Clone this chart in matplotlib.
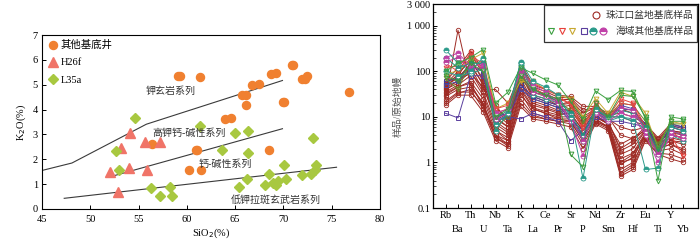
import matplotlib
matplotlib.use("Agg")
import matplotlib.pyplot as plt
from matplotlib.ticker import LogLocator, NullFormatter, FixedLocator
from matplotlib.patches import Rectangle

plt.rcParams['font.family'] = ['Liberation Serif', 'Noto Sans CJK SC']

# ---------------- Left chart data ----------------
well_sio2 = [59.1, 59.3, 61.4, 64.0, 64.6, 60.9, 61.0, 56.4, 60.2, 61.5, 65.7, 66.1, 66.1,
             66.7, 67.5, 68.7, 69.2, 70.0, 70.1, 68.5, 70.9, 71.0, 71.9, 72.2, 72.4, 76.8]
well_k2o = [5.35, 5.35, 5.31, 3.63, 3.66, 2.39, 2.39, 2.62, 1.56, 1.57, 4.58, 4.58, 4.19,
            4.99, 5.03, 5.44, 5.46, 4.29, 4.29, 2.38, 5.81, 5.81, 5.22, 5.24, 5.35, 4.69]
h26f_sio2 = [54.1, 53.2, 55.7, 57.2, 52.0, 54.0, 55.9, 52.9]
h26f_k2o = [3.04, 2.47, 2.69, 2.69, 1.49, 1.65, 1.55, 0.70]
l35a_sio2 = [54.6, 52.7, 53.0, 61.4, 63.6, 65.0, 66.3, 66.3, 56.3, 58.3, 57.2, 58.5, 65.4,
             66.2, 68.5, 68.1, 68.9, 69.2, 69.4, 70.1, 70.3, 71.9, 72.9, 73.1, 73.3, 73.4]
l35a_k2o = [3.68, 2.33, 1.56, 3.32, 2.39, 3.04, 3.12, 2.27, 0.83, 0.89, 0.51, 0.51, 0.87,
            1.22, 1.41, 0.95, 1.06, 0.95, 1.12, 1.76, 1.20, 1.37, 1.40, 2.86, 1.56, 1.76]
line_sho_x = [45, 48.1, 55.8, 69.9]
line_sho_y = [1.55, 1.85, 3.41, 5.17]
line_hk_x = [52.0, 69.9]
line_hk_y = [1.29, 3.23]
line_ca_x = [47.3, 75.5]
line_ca_y = [0.43, 1.68]
series_names = ['钾玄岩系列', '高钾钙-碱性系列', '钙-碱性系列', '低钾拉斑玄武岩系列']
series_pos = [(58.3, 4.74), (60.2, 3.06), (64.0, 1.79), (69.2, 0.34)]

# ---------------- Right chart data ----------------
elements = ['Rb', 'Ba', 'Th', 'U', 'Nb', 'Ta', 'K', 'La', 'Ce', 'Pr',
            'Sr', 'P', 'Nd', 'Sm', 'Zr', 'Hf', 'Eu', 'Ti', 'Y', 'Yb']

zjk_samples = [
    [60, 120, 280, 110, 18, 8, 150, 50, 40, 30, 28, 17, 17, 12, 15, 12, 7, 3.5, 7, 6],
    [18, 30, 30, 13, 3, 2.1, 17, 9, 8, 7, 6, 2, 7, 5, 0.5, 0.7, 3, 1.5, 1.2, 1.0],
    [25, 800, 50, 20, 4, 2.5, 30, 15, 12, 9, 8, 3, 8, 6, 1.0, 1.5, 4, 2.0, 2.5, 1.8],
    [45, 60, 120, 40, 40, 20, 90, 35, 30, 22, 25, 10, 15, 10, 4, 3.3, 6, 2.5, 5, 4],
    [22, 35, 35, 18, 3.5, 2.5, 20, 10, 9, 8, 8, 3, 8, 6, 0.7, 1.0, 3.5, 1.8, 2.0, 1.5],
    [30, 45, 60, 25, 5, 3, 40, 15, 12, 10, 10, 4, 9, 6, 0.9, 1.3, 4, 2.0, 3.0, 2.5],
    [35, 50, 80, 30, 6, 4, 55, 18, 15, 12, 12, 5, 10, 7, 1.2, 1.6, 4.5, 2.2, 3.5, 3.0],
    [40, 55, 100, 35, 7, 4.5, 70, 22, 18, 14, 15, 6, 11, 7, 1.5, 2.0, 5, 2.5, 4.0, 3.5],
    [50, 70, 150, 50, 8, 5, 90, 25, 20, 16, 18, 7, 12, 8, 1.8, 2.5, 5, 2.8, 4.5, 4.0],
    [55, 80, 200, 60, 9, 6, 110, 28, 22, 18, 20, 8, 13, 8, 2.0, 3.0, 5.5, 3.0, 5.0, 4.5],
    [28, 40, 45, 20, 4, 3, 35, 12, 10, 9, 9, 3.5, 9, 6, 0.6, 0.9, 4, 2.0, 2.5, 2.0],
    [38, 65, 90, 45, 10, 6, 60, 20, 16, 13, 14, 6, 11, 7, 2.5, 3.5, 5, 2.3, 4.0, 3.5],
    [48, 75, 130, 55, 12, 7, 80, 30, 25, 18, 22, 9, 14, 9, 6, 5, 6, 2.6, 5.0, 4.5],
    [33, 45, 55, 17, 5, 3.5, 45, 16, 13, 11, 12, 5, 10, 7, 1.0, 1.2, 4.5, 2.0, 3.0, 2.8],
    [42, 90, 170, 70, 14, 8, 120, 40, 32, 24, 24, 12, 16, 10, 10, 8, 6.5, 3.0, 6.0, 5.0],
    [52, 100, 240, 90, 16, 9, 130, 45, 36, 27, 26, 14, 16, 11, 12, 10, 7, 3.2, 6.5, 5.5],
    [20, 33, 40, 15, 3.5, 2.3, 25, 11, 9, 8, 7, 2.5, 7.5, 5.5, 0.55, 0.8, 3.2, 1.6, 1.5, 1.2],
]

other_green1 = [100, 150, 200, 300, 20, 35, 120, 90, 65, 50, 22, 9, 37, 24, 38, 36, 9, 0.4, 10, 9]
other_green2 = [80, 60, 150, 100, 10, 15, 80, 40, 30, 25, 1.5, 0.8, 20, 10, 30, 28, 10, 2.0, 8, 8]
other_red1 = [150, 100, 250, 100, 12, 15, 110, 45, 30, 25, 20, 6, 20, 10, 25, 20, 6, 1.5, 4, 1.4]
other_red2 = [120, 130, 220, 150, 15, 18, 100, 55, 40, 30, 18, 5, 18, 9, 20, 18, 5, 1.8, 5, 3]
other_yellow1 = [90, 100, 180, 250, 15, 20, 60, 60, 40, 30, 25, 10, 25, 12, 35, 28, 12, 2.0, 8, 7]
other_purple1 = [12, 9.5, 80, 80, 9, 10, 9, 12, 10, 8, 3, 5, 10, 8, 8, 7, 6, 1.5, 6, 5]
other_purple2 = [50, 60, 110, 120, 8, 10, 40, 25, 20, 16, 8, 4, 12, 9, 18, 15, 6, 2.0, 7, 6]
other_purple3 = [60, 70, 130, 100, 10, 12, 50, 28, 22, 18, 9, 5, 14, 10, 15, 14, 7, 2.2, 6, 6]
other_teal1 = [300, 150, 100, 200, 5, 12, 160, 60, 45, 30, 10, 0.45, 15, 10, 10, 8, 0.7, 0.75, 6, 5]
other_teal2 = [100, 80, 90, 110, 7, 12, 140, 30, 25, 20, 10, 3, 13, 8, 10, 9, 5, 1.5, 4, 3]
other_teal3 = [200, 120, 150, 150, 9, 14, 150, 40, 30, 22, 12, 4, 15, 9, 14, 12, 6, 1.8, 5, 4]
other_magenta1 = [200, 250, 130, 140, 12, 15, 100, 50, 35, 22, 8, 1.4, 12, 8, 12, 10, 4, 1.0, 4, 3.5]
other_magenta2 = [160, 200, 110, 120, 9, 12, 90, 35, 28, 20, 10, 3, 13, 9, 16, 14, 5, 1.5, 5, 4]
other_olive1 = [70, 40, 160, 150, 6, 10, 70, 35, 28, 22, 14, 7, 16, 10, 20, 18, 8, 2.5, 7, 7]

# ---------------- Figure ----------------
fig = plt.figure(figsize=(7.0, 2.52), dpi=100)

ax1 = fig.add_axes([42/700, 43/252, 338/700, 174/252])
lc = '#3a3a3a'
ax1.plot(line_sho_x, line_sho_y, color=lc, lw=0.8, zorder=2)
ax1.plot(line_hk_x, line_hk_y, color=lc, lw=0.8, zorder=2)
ax1.plot(line_ca_x, line_ca_y, color=lc, lw=0.8, zorder=2)
ax1.plot(well_sio2, well_k2o, 'o', ls='none', color='#F08030', ms=5.8, label='其他基底井', zorder=3)
ax1.plot(h26f_sio2, h26f_k2o, '^', ls='none', color='#F07468', ms=7, label='H26f', zorder=3)
ax1.plot(l35a_sio2, l35a_k2o, 'D', ls='none', color='#A8C840', ms=4.6, label='L35a', zorder=3)
for name, (x, y) in zip(series_names, series_pos):
    ax1.text(x, y, name, fontsize=7.2, ha='center', va='center', color='#333333', zorder=4)
ax1.set_xlim(45, 80)
ax1.set_ylim(0, 7)
ax1.set_xticks(range(45, 81, 5))
ax1.set_yticks(range(0, 8))
ax1.tick_params(axis='x', direction='in', length=3, labelsize=7.5, width=0.7, pad=4)
ax1.tick_params(axis='y', direction='in', length=3, labelsize=7.5, width=0.7, pad=3)
ax1.set_xlabel('SiO$_2$(%)', fontsize=7.5, labelpad=2)
ax1.set_ylabel('K$_2$O(%)', fontsize=7.5, labelpad=3)
for s in ax1.spines.values():
    s.set_linewidth(0.8)
ax1.legend(loc='upper left', frameon=False, fontsize=7.5, handletextpad=0.1,
           borderaxespad=0.2, labelspacing=0.75, handlelength=1.2, borderpad=0.3)

# right chart
ax2 = fig.add_axes([433/700, 44/252, 265/700, 204/252])
x = list(range(len(elements)))
zcol = '#9E2A24'
for vals in zjk_samples:
    ax2.plot(x, vals, '-o', color=zcol, mfc='none', ms=3.2, lw=0.7, mew=0.6, zorder=2)


def draw(vals, marker, col, half=False):
    if half:
        ax2.plot(x, vals, '-' + marker, color=col, ms=3.6, lw=0.7, mew=0.6,
                 fillstyle='top', markerfacecoloralt='white', zorder=3)
    else:
        ax2.plot(x, vals, '-' + marker, color=col, mfc='none', ms=3.4, lw=0.7, mew=0.7, zorder=3)


draw(other_purple1, 's', '#5A3E9E')
draw(other_purple2, 's', '#4A4AA8')
draw(other_purple3, 's', '#3F3F9A')
draw(other_olive1, 'v', '#6A8A2A')
draw(other_yellow1, 'v', '#C8A830')
draw(other_red1, 'v', '#E8403A')
draw(other_red2, 'v', '#E04848')
draw(other_teal2, 'o', '#2A9A8A', half=True)
draw(other_teal3, 'o', '#249080', half=True)
draw(other_magenta1, 'o', '#C040A8', half=True)
draw(other_magenta2, 'o', '#B83C9C', half=True)
draw(other_teal1, 'o', '#2A9A8A', half=True)
draw(other_green2, 'v', '#3C9A3C')
draw(other_green1, 'v', '#3CA040')

ax2.set_yscale('log')
ax2.set_ylim(0.1, 3000)
ax2.set_xlim(-1.0, 20.2)
ax2.set_yticks([0.1, 1, 10, 100, 1000, 3000])
ax2.set_yticklabels(['0.1', '1', '10', '100', '1 000', '3 000'])
ax2.yaxis.set_minor_locator(LogLocator(base=10, subs=range(2, 10), numticks=20))
ax2.yaxis.set_minor_formatter(NullFormatter())
ax2.set_xticks(list(range(0, 20, 2)))
ax2.set_xticklabels(elements[0::2])
ax2.xaxis.set_minor_locator(FixedLocator(list(range(1, 20, 2))))
ax2.set_xticklabels(elements[1::2], minor=True)
ax2.tick_params(axis='x', which='major', direction='in', length=3, labelsize=7.5, pad=2, width=0.7)
ax2.tick_params(axis='x', which='minor', direction='in', length=3, labelsize=7.5, pad=12, width=0.7)
ax2.tick_params(axis='y', which='major', direction='in', length=3, labelsize=7.5, pad=2, width=0.7)
ax2.tick_params(axis='y', which='minor', direction='in', length=2, width=0.5)
ax2.tick_params(axis='y', which='both', right=False)
ax2.set_ylabel('样品/原始地幔', fontsize=7, color='#555555', labelpad=3)
for s in ax2.spines.values():
    s.set_linewidth(0.9)

# legend box (right chart)
bx0, by0 = (544 - 433) / 265, 1 - (42 - 4) / 204
box = Rectangle((bx0, by0), 1 - bx0 - 0.003, 1 - by0 - 0.004, transform=ax2.transAxes,
                fill=True, facecolor='white', edgecolor='#333333', lw=0.9, zorder=5)
ax2.add_patch(box)
tr = ax2.transAxes
ax2.plot([0.615], [0.947], 'o', color=zcol, mfc='none', ms=5, mew=0.8, transform=tr, zorder=6)
ax2.text(0.65, 0.947, '珠江口盆地基底样品', fontsize=7, va='center', ha='left', color='#333333',
         transform=tr, zorder=6)
leg_syms = [('v', '#3CA040', False), ('v', '#E8403A', False), ('v', '#C8A830', False),
            ('s', '#5A3E9E', False), ('o', '#2A9A8A', True), ('o', '#C040A8', True)]
leg_x = [0.445, 0.485, 0.525, 0.57, 0.605, 0.64]
for (m, c, h), xx in zip(leg_syms, leg_x):
    if h:
        ax2.plot([xx], [0.868], m, color=c, ms=5, mew=0.8, fillstyle='top',
                 markerfacecoloralt='white', transform=tr, zorder=6)
    else:
        ax2.plot([xx], [0.868], m, color=c, mfc='none', ms=5, mew=0.8, transform=tr, zorder=6)
ax2.text(0.69, 0.868, '海域其他基底样品', fontsize=7, va='center', ha='left', color='#333333',
         transform=tr, zorder=6)

fig.savefig('out.png', dpi=100)
